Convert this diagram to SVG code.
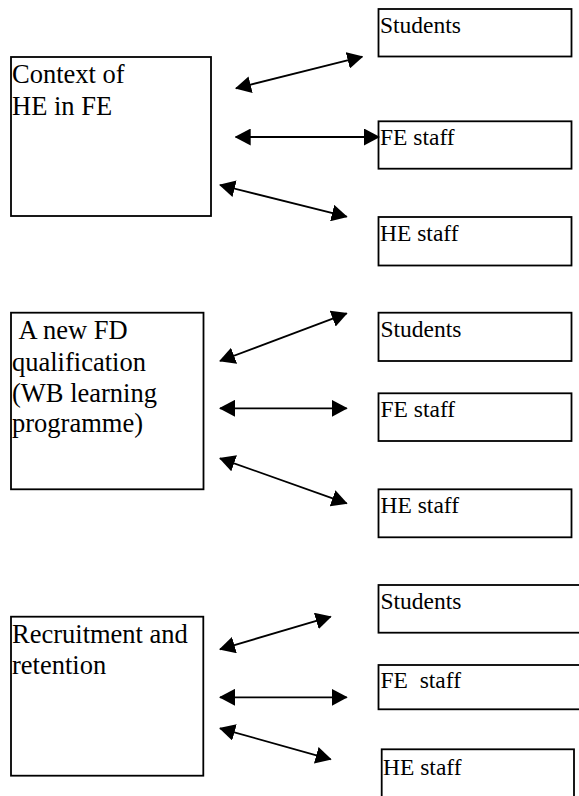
<svg xmlns="http://www.w3.org/2000/svg" width="579" height="796" viewBox="0 0 579 796">
<style>
.box{fill:#fff;stroke:#000;stroke-width:1.8}
.big{font-family:"Liberation Serif","Times New Roman",serif;font-size:26.5px;fill:#000}
.sm{font-family:"Liberation Serif","Times New Roman",serif;font-size:23.5px;fill:#000}
.con line{stroke:#000;stroke-width:1.8;marker-start:url(#ah);marker-end:url(#ah)}
</style>
<defs>
<marker id="ah" viewBox="0 0 16 17" refX="15" refY="8.5" markerWidth="16" markerHeight="17" markerUnits="userSpaceOnUse" orient="auto-start-reverse">
<path d="M0,0 L16,8.5 L0,17 z" fill="#000"/>
</marker>
</defs>
<rect width="579" height="796" fill="#fff"/>

<g id="context">
<rect class="box" x="11" y="57" width="200" height="159"/>
<text class="big" x="12" y="83">Context of</text>
<text class="big" x="12" y="114.5">HE in FE</text>
</g>
<g id="students1"><rect class="box" x="378.5" y="9" width="193" height="47.5"/><text class="sm" x="380" y="32.5">Students</text></g>
<g id="festaff1"><rect class="box" x="378.5" y="121.3" width="193" height="47.4"/><text class="sm" x="380" y="145">FE staff</text></g>
<g id="hestaff1"><rect class="box" x="378.5" y="217" width="193" height="48.5"/><text class="sm" x="380" y="240.5">HE staff</text></g>

<g id="newfd">
<rect class="box" x="11" y="312.7" width="192.5" height="176.6"/>
<text class="big" x="18.6" y="339">A new FD</text>
<text class="big" x="12" y="370.5">qualification</text>
<text class="big" x="12" y="401.5">(WB learning</text>
<text class="big" x="12" y="432">programme)</text>
</g>
<g id="students2"><rect class="box" x="378.5" y="312.7" width="193" height="48.3"/><text class="sm" x="380.5" y="337">Students</text></g>
<g id="festaff2"><rect class="box" x="378.5" y="393.3" width="193" height="47.7"/><text class="sm" x="380.5" y="416.7">FE staff</text></g>
<g id="hestaff2"><rect class="box" x="378.5" y="489.3" width="193" height="48"/><text class="sm" x="380.5" y="512.8">HE staff</text></g>

<g id="recruitment">
<rect class="box" x="11" y="616.7" width="192.3" height="159"/>
<text class="big" x="12" y="643.3">Recruitment and</text>
<text class="big" x="12" y="674">retention</text>
</g>
<g id="students3"><rect class="box" x="378.5" y="585" width="210" height="47.7"/><text class="sm" x="380.5" y="608.5">Students</text></g>
<g id="festaff3"><rect class="box" x="378.5" y="665" width="210" height="44.3"/><text class="sm" x="380.5" y="688.3" xml:space="preserve">FE  staff</text></g>
<g id="hestaff3"><rect class="box" x="381.7" y="749.3" width="192.3" height="60"/><text class="sm" x="383" y="775">HE staff</text></g>

<g id="connectors" class="con">
<line x1="236" y1="88.3" x2="362.3" y2="56.7"/>
<line x1="235.7" y1="137" x2="379" y2="137"/>
<line x1="220" y1="185" x2="346.7" y2="216.7"/>
<line x1="220" y1="361" x2="346.7" y2="313.3"/>
<line x1="220" y1="408.3" x2="346.7" y2="408.3"/>
<line x1="220" y1="458.3" x2="346.7" y2="503.3"/>
<line x1="220" y1="649.3" x2="330.7" y2="616.7"/>
<line x1="220" y1="697.3" x2="346.7" y2="697.3"/>
<line x1="220" y1="728.3" x2="330.7" y2="759.3"/>
</g>
</svg>
